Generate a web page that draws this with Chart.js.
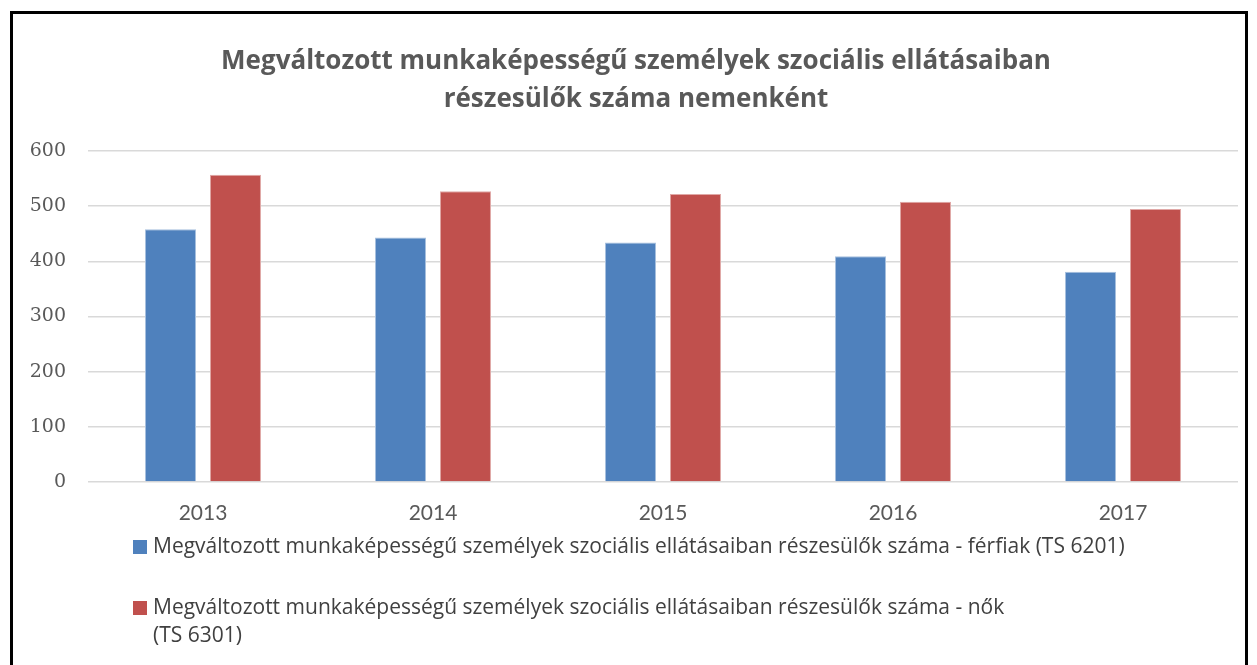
<!DOCTYPE html>
<html>
<head>
<meta charset="utf-8">
<script src="https://cdn.jsdelivr.net/npm/chart.js@4/dist/chart.umd.min.js"></script>
<style>
  html, body { margin: 0; padding: 0; background: #fff; }
  #wrap { position: relative; width: 1257px; height: 665px; overflow: hidden; }
  #frame { position: absolute; left: 10px; top: 11px; width: 1238px; height: 700px; border: 3px solid #000; box-sizing: border-box; pointer-events: none; }
  canvas { position: absolute; left: 0; top: 0; }
</style>
</head>
<body>
<div id="wrap">
  <canvas id="c" width="1257" height="665"></canvas>
  <div id="frame"></div>
</div>
<script>
const titleLines = [
  "Megváltozott munkaképességű személyek szociális ellátásaiban",
  "részesülők száma nemenként"
];
const categories = ["2013", "2014", "2015", "2016", "2017"];
const menValues = [458, 443, 434, 409, 381];
const womenValues = [557, 527, 522, 508, 495];
const menLabel = "Megváltozott munkaképességű személyek szociális ellátásaiban részesülők száma - férfiak (TS 6201)";
const womenLabel = "Megváltozott munkaképességű személyek szociális ellátásaiban részesülők száma - nők (TS 6301)";
const legendLines = [
  ["Megváltozott munkaképességű személyek szociális ellátásaiban részesülők száma - férfiak (TS 6201)"],
  ["Megváltozott munkaképességű személyek szociális ellátásaiban részesülők száma - nők", "(TS 6301)"]
];
const yTicks = [0, 100, 200, 300, 400, 500, 600];

const titlePlugin = {
  id: 'customTitle',
  afterDraw(chart) {
    const ctx = chart.ctx;
    ctx.save();
    ctx.font = 'bold 26px "Open Sans", Lato, sans-serif';
    ctx.fillStyle = '#595959';
    ctx.textAlign = 'center';
    ctx.textBaseline = 'middle';
    titleLines.forEach((line, i) => ctx.fillText(line, 636, 62 + i * 38));
    ctx.restore();
  }
};

const legendPlugin = {
  id: 'customLegend',
  afterDraw(chart) {
    const ctx = chart.ctx;
    const ds = chart.data.datasets;
    const starts = [547, 608];
    ctx.save();
    ctx.font = '21px "Open Sans", Lato, sans-serif';
    ctx.textBaseline = 'middle';
    ds.forEach((d, i) => {
      const y = starts[i];
      ctx.fillStyle = d.backgroundColor;
      ctx.fillRect(133, y - 7, 14, 14);
      ctx.fillStyle = '#404040';
      legendLines[i].forEach((line, j) => {
        ctx.fillText(line, 153, y + j * 28);
      });
    });
    ctx.restore();
  }
};

new Chart(document.getElementById('c'), {
  type: 'bar',
  data: {
    labels: categories,
    datasets: [
      { label: menLabel, data: menValues, backgroundColor: '#4F81BD', borderColor: '#A7C0DE', borderWidth: 1,
        categoryPercentage: 0.565, barPercentage: 0.785 },
      { label: womenLabel, data: womenValues, backgroundColor: '#C0504D', borderColor: '#E0A8A6', borderWidth: 1,
        categoryPercentage: 0.565, barPercentage: 0.785 }
    ]
  },
  options: {
    responsive: false,
    animation: false,
    layout: { padding: { left: 16, right: 19, top: 151, bottom: 133 } },
    plugins: {
      legend: { display: false },
      tooltip: { enabled: false },
      title: { display: false }
    },
    scales: {
      x: {
        grid: { display: false },
        border: { display: false },
        ticks: { color: '#595959', font: { family: 'Lato, "Open Sans", sans-serif', size: 21 }, padding: 11 },
        afterFit(scale) { scale.height = 50; }
      },
      y: {
        min: 0, max: 600,
        afterBuildTicks(scale) { scale.ticks = yTicks.map(v => ({ value: v })); },
        grid: { color: '#D9D9D9', lineWidth: 1.5, drawTicks: false },
        border: { display: false },
        ticks: { color: '#595959', font: { family: '"DejaVu Serif", serif', size: 19 }, padding: 22 },
        afterFit(scale) { scale.width = 72; }
      }
    }
  },
  plugins: [titlePlugin, legendPlugin]
});
</script>
</body>
</html>
